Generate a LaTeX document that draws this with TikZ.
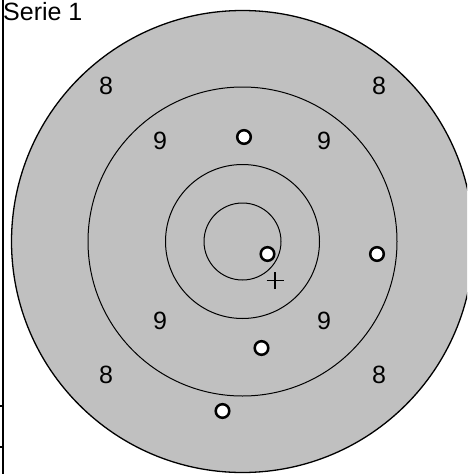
\documentclass[tikz,border=0pt]{standalone}
\usepackage{fontspec}
\setmainfont{Liberation Sans}
\begin{document}
\begin{tikzpicture}[x=1pt,y=-1pt,
  ring/.style={draw=black,line width=1pt},
  label/.style={inner sep=0pt,font=\fontsize{25}{30}\selectfont},
  shot/.style={circle,draw=black,fill=white,line width=2.5pt,inner sep=0pt,minimum size=13.6pt},
  axis/.style={draw=black,line width=1.3pt}]
\useasboundingbox (0,0) rectangle (467,474);
\clip (0,0) rectangle (467,474);
\coordinate (c) at (242.5,241.5);
\fill[white] (0,0) rectangle (467,474);
\filldraw[fill={rgb,255:red,192;green,192;blue,192},draw=black,line width=1.3pt] (c) circle[radius=231pt];
\draw[ring] (c) circle[radius=154.5pt];
\draw[ring] (c) circle[radius=77pt];
\draw[ring] (c) circle[radius=38.5pt];
% axis line with ticks
\coordinate (a0) at (3,0);
\coordinate (a1) at (3,474);
\coordinate (t1a) at (0,406);
\coordinate (t1b) at (3,406);
\coordinate (t2a) at (0,447);
\coordinate (t2b) at (3,447);
\draw[axis] (a0) -- (a1);
\draw[axis] (t1a) -- (t1b);
\draw[axis] (t2a) -- (t2b);
\node[label,anchor=base west] (title) at (3,20) {Serie 1};
% ring labels
\node[label] (l8a) at (106,86) {8};
\node[label] (l8b) at (379,86) {8};
\node[label] (l8c) at (106,375) {8};
\node[label] (l8d) at (379,375) {8};
\node[label] (l9a) at (160,141) {9};
\node[label] (l9b) at (324,141) {9};
\node[label] (l9c) at (160,321) {9};
\node[label] (l9d) at (324,321) {9};
% mean point cross
\coordinate (m) at (275,280.5);
\draw[line width=1.3pt] ([xshift=-8.5pt]m) -- ([xshift=8.5pt]m);
\draw[line width=1.3pt] ([yshift=-8.5pt]m) -- ([yshift=8.5pt]m);
% shots
\node[shot] (s1) at (244,137) {};
\node[shot] (s2) at (267.5,254) {};
\node[shot] (s3) at (377,254) {};
\node[shot] (s4) at (261.5,348) {};
\node[shot] (s5) at (222.5,411) {};
\end{tikzpicture}
\end{document}
